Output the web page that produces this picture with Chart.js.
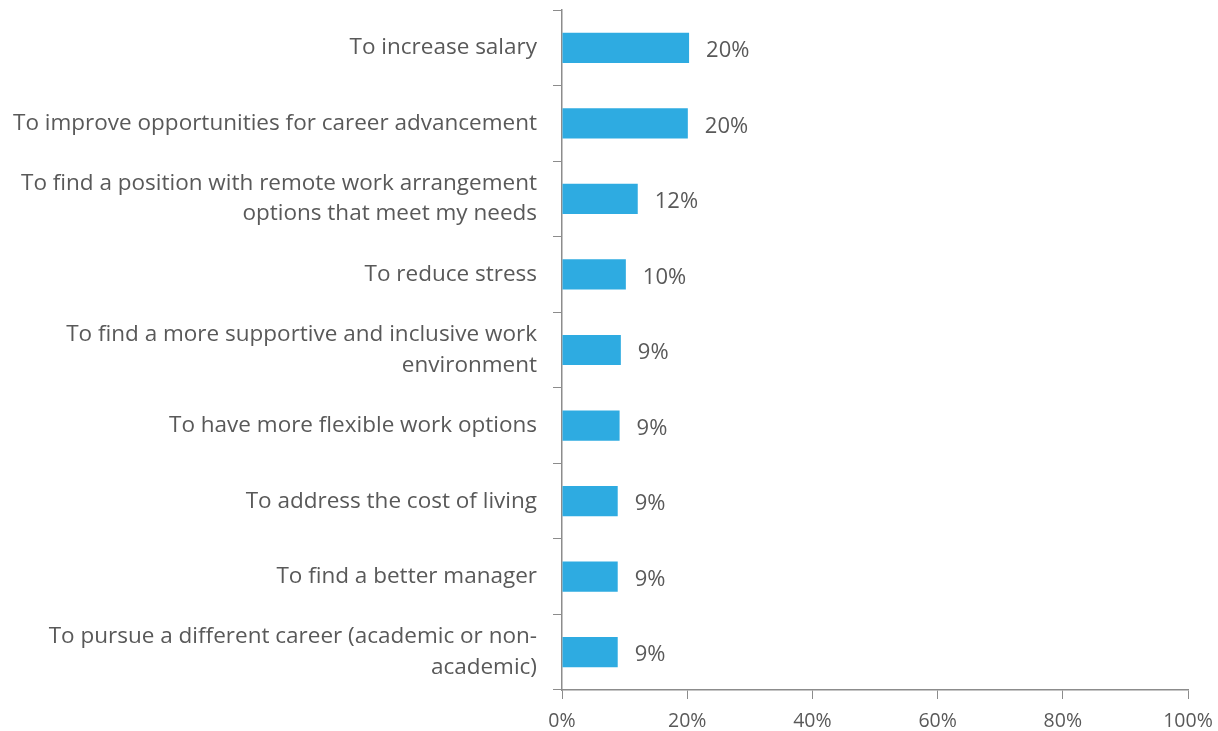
<!DOCTYPE html>
<html>
<head>
<meta charset="utf-8">
<script src="https://cdn.jsdelivr.net/npm/chart.js@4"></script>
<style>
  html, body { margin: 0; padding: 0; background: #fff; }
  #wrap { width: 1218px; height: 731px; }
</style>
</head>
<body>
<div id="wrap"><canvas id="chart"></canvas></div>
<script>
// reasons for leaving — share of respondents
var CATEGORIES = [
  'To increase salary',
  'To improve opportunities for career advancement',
  ['To find a position with remote work arrangement', 'options that meet my needs'],
  'To reduce stress',
  ['To find a more supportive and inclusive work', 'environment'],
  'To have more flexible work options',
  'To address the cost of living',
  'To find a better manager',
  ['To pursue a different career (academic or non-', 'academic)']
];
var VALUES = [20.3, 20.1, 12.1, 10.2, 9.4, 9.2, 8.9, 8.9, 8.9];
var VALUE_LABELS = ['20%', '20%', '12%', '10%', '9%', '9%', '9%', '9%', '9%'];
var X_TICKS = [0, 20, 40, 60, 80, 100];

var GREY = '#595959';
var AXIS = '#8c8c8c';
var FONT = '"Open Sans", "Noto Sans", sans-serif';

var valueLabels = {
  id: 'valueLabels',
  afterDatasetsDraw: function(chart) {
    var ctx = chart.ctx;
    var meta = chart.getDatasetMeta(0);
    ctx.save();
    ctx.fillStyle = GREY;
    ctx.font = '22px ' + FONT;
    ctx.textBaseline = 'middle';
    ctx.textAlign = 'left';
    meta.data.forEach(function(bar, i) {
      ctx.fillText(VALUE_LABELS[i], bar.x + 17, bar.y + 3);
    });
    ctx.restore();
  }
};

new Chart(document.getElementById('chart'), {
  type: 'bar',
  data: {
    labels: CATEGORIES,
    datasets: [{
      data: VALUES,
      backgroundColor: '#2eabe1',
      borderWidth: 0,
      categoryPercentage: 0.8,
      barPercentage: 0.5
    }]
  },
  plugins: [valueLabels],
  options: {
    indexAxis: 'y',
    responsive: true,
    maintainAspectRatio: false,
    animation: false,
    layout: { padding: { top: 10, right: 30, left: 0, bottom: 0 } },
    plugins: { legend: { display: false }, tooltip: { enabled: false } },
    scales: {
      x: {
        min: 0,
        max: 100,
        afterBuildTicks: function(axis) {
          axis.ticks = X_TICKS.map(function(v) { return { value: v }; });
        },
        afterFit: function(axis) {
          axis.height = 41;
          axis.paddingLeft = 0;
          axis.paddingRight = 0;
        },
        grid: { drawOnChartArea: false, drawTicks: true, tickLength: 9, color: AXIS },
        border: { color: AXIS, width: 1.5 },
        ticks: {
          color: GREY,
          padding: 11,
          font: { family: FONT, size: 19.5 },
          callback: function(v) { return v + '%'; }
        }
      },
      y: {
        afterFit: function(axis) {
          axis.width = 562;
          axis.paddingTop = 0;
          axis.paddingBottom = 0;
        },
        grid: { drawOnChartArea: false, drawTicks: true, tickLength: 9, color: AXIS },
        border: { color: AXIS, width: 1.5 },
        ticks: {
          color: GREY,
          padding: 16,
          font: { family: FONT, size: 22.5, lineHeight: 1.35 }
        }
      }
    }
  }
});
</script>
</body>
</html>
